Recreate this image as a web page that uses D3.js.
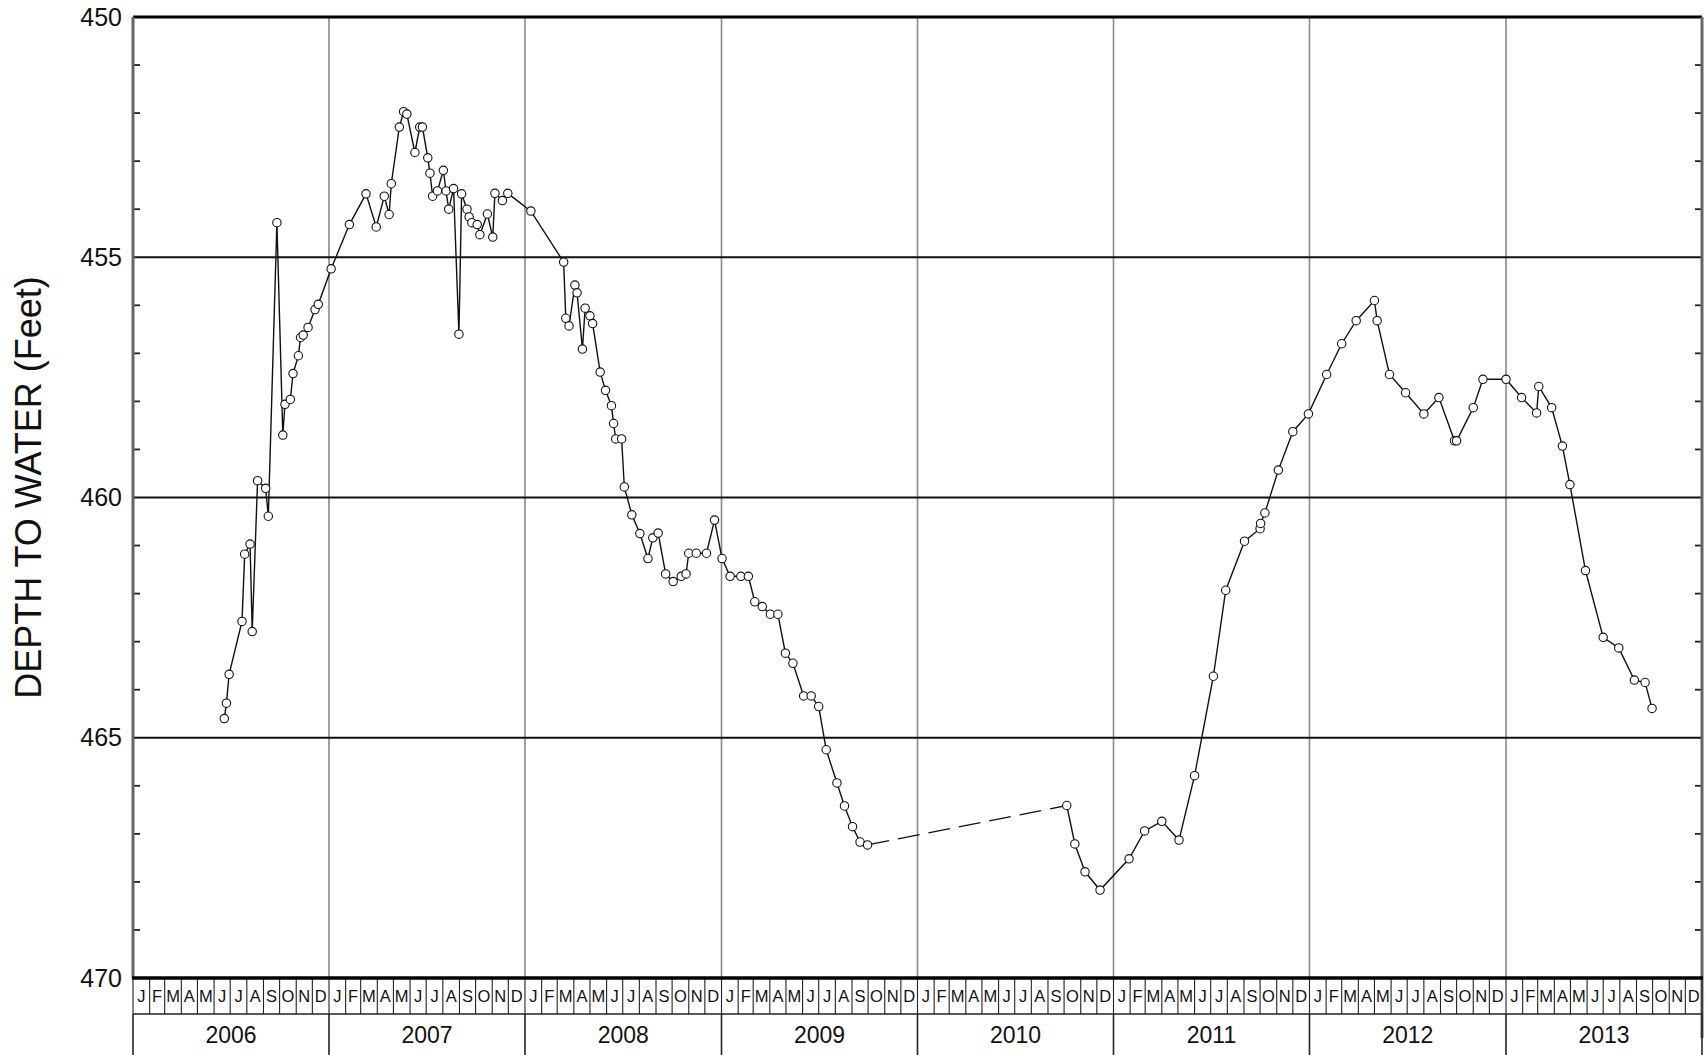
<!DOCTYPE html>
<html>
<head>
<meta charset="utf-8">
<script src="https://cdn.jsdelivr.net/npm/d3@7"></script>
<style>
  body { margin: 0; background: #fff; }
  svg { display: block; font-family: "Liberation Sans", Arial, sans-serif; }
</style>
</head>
<body>
<div id="chart-area"></div>
<script>
// Fechas de medición y profundidad al agua (pies)
const dates = [
  "2006-06-20","2006-06-24","2006-06-29","2006-07-23","2006-07-28","2006-08-07","2006-08-11","2006-08-21",
  "2006-09-05","2006-09-10","2006-09-26","2006-10-07","2006-10-11","2006-10-21","2006-10-26","2006-11-05",
  "2006-11-09","2006-11-14","2006-11-23","2006-12-06","2006-12-12",
  "2007-01-05","2007-02-08","2007-03-11","2007-03-30","2007-04-14","2007-04-23","2007-04-27","2007-05-12",
  "2007-05-20","2007-05-26","2007-06-10","2007-06-19","2007-06-24","2007-07-04","2007-07-08","2007-07-13",
  "2007-07-22","2007-08-02","2007-08-07","2007-08-12","2007-08-21","2007-08-31","2007-09-05","2007-09-15",
  "2007-09-19","2007-09-24","2007-10-04","2007-10-09","2007-10-23","2007-11-02","2007-11-06","2007-11-20",
  "2007-11-30",
  "2008-01-12","2008-03-13","2008-03-17","2008-03-23","2008-04-03","2008-04-07","2008-04-17","2008-04-22",
  "2008-05-01","2008-05-06","2008-05-20","2008-05-30","2008-06-10","2008-06-14","2008-06-18","2008-06-29",
  "2008-07-04","2008-07-18","2008-08-02","2008-08-17","2008-08-26","2008-09-05","2008-09-19","2008-10-03",
  "2008-10-18","2008-10-27","2008-11-01","2008-11-15","2008-12-04","2008-12-19",
  "2009-01-02","2009-01-17","2009-02-06","2009-02-20","2009-03-04","2009-03-18","2009-04-02","2009-04-16",
  "2009-04-30","2009-05-14","2009-06-03","2009-06-17","2009-07-01","2009-07-15","2009-08-04","2009-08-18",
  "2009-09-02","2009-09-16","2009-09-30",
  "2010-10-06","2010-10-21","2010-11-09","2010-12-07",
  "2011-01-30","2011-02-28","2011-04-01","2011-05-03","2011-06-01","2011-07-06","2011-07-29","2011-09-02",
  "2011-10-01","2011-10-02","2011-10-10","2011-11-04","2011-12-01","2011-12-30",
  "2012-02-02","2012-03-01","2012-03-28","2012-05-01","2012-05-06","2012-05-29","2012-06-28","2012-08-01",
  "2012-08-29","2012-09-27","2012-10-01","2012-11-01","2012-11-19",
  "2013-01-01","2013-01-30","2013-02-27","2013-03-03","2013-03-27","2013-04-16","2013-04-30","2013-05-29",
  "2013-07-01","2013-07-30","2013-08-28","2013-09-17","2013-09-30"
];

const depths = [
  464.60,464.28,463.68,462.58,461.18,460.97,462.79,459.65,
  459.81,460.39,454.28,458.70,458.06,457.96,457.42,457.05,
  456.67,456.62,456.46,456.09,455.98,
  455.24,454.32,453.68,454.37,453.73,454.11,453.47,452.29,
  451.97,452.02,452.82,452.29,452.29,452.93,453.25,453.73,
  453.62,453.19,453.62,454.00,453.57,456.60,453.68,454.00,
  454.16,454.28,454.32,454.53,454.10,454.58,453.67,453.82,
  453.67,
  454.04,455.10,456.27,456.43,455.58,455.74,456.91,456.06,
  456.22,456.38,457.39,457.77,458.09,458.46,458.78,458.78,
  459.78,460.36,460.75,461.27,460.84,460.74,461.59,461.75,
  461.64,461.59,461.16,461.16,461.16,460.47,
  461.27,461.64,461.64,461.64,462.17,462.27,462.43,462.43,
  463.24,463.45,464.13,464.13,464.35,465.25,465.94,466.42,
  466.85,467.17,467.23,
  466.41,467.21,467.79,468.17,
  467.52,466.94,466.74,467.13,465.79,463.72,461.93,460.91,
  460.65,460.54,460.32,459.43,458.63,458.26,
  457.44,456.80,456.32,455.90,456.32,457.44,457.82,458.26,
  457.92,458.82,458.82,458.13,457.54,
  457.54,457.92,458.24,457.69,458.13,458.93,459.73,461.52,
  462.91,463.13,463.80,463.85,464.39
];

// Sin mediciones entre estas dos fechas (tramo punteado)
const gapStart = "2009-09-30";
const gapEnd = "2010-10-06";

const years = [2006, 2007, 2008, 2009, 2010, 2011, 2012, 2013];
const monthLetters = ["J","F","M","A","M","J","J","A","S","O","N","D"];
const yTicks = [450, 455, 460, 465, 470];
const gridLines = [455, 460, 465];

const parseDate = d3.timeParse("%Y-%m-%d");
const formatDate = d3.timeFormat("%Y-%m-%d");

const data = dates.map((d, i) => ({ date: parseDate(d), depth: depths[i] }));

const margin = { top: 17, right: 4, bottom: 77, left: 133 };
const width = 1706 - margin.left - margin.right;
const height = 1055 - margin.top - margin.bottom;

// Crear SVG
const svg = d3.select("#chart-area")
  .append("svg")
  .attr("width", 1706)
  .attr("height", 1055);

const g = svg.append("g")
  .attr("transform", `translate(${margin.left},${margin.top})`);

// Escalas
const x = d3.scaleTime()
  .domain([new Date(years[0], 0, 1), new Date(years[years.length - 1] + 1, 0, 1)])
  .range([0, width]);

const y = d3.scaleLinear()
  .domain([450, 470])
  .range([0, height]);

// Líneas verticales de año
g.selectAll(".year-line")
  .data(years.slice(1))
  .enter()
  .append("line")
  .attr("class", "year-line")
  .attr("x1", d => x(new Date(d, 0, 1)))
  .attr("x2", d => x(new Date(d, 0, 1)))
  .attr("y1", 0)
  .attr("y2", height)
  .attr("stroke", "#8a8a8a")
  .attr("stroke-width", 1.6);

// Líneas horizontales
g.selectAll(".grid-line")
  .data(gridLines)
  .enter()
  .append("line")
  .attr("class", "grid-line")
  .attr("x1", 0)
  .attr("x2", width)
  .attr("y1", d => y(d))
  .attr("y2", d => y(d))
  .attr("stroke", "#111")
  .attr("stroke-width", 1.8);

// Marcas menores de cada pie, a ambos lados
const minorTicks = d3.range(451, 470).filter(d => d % 5 !== 0);
g.selectAll(".minor-left")
  .data(minorTicks)
  .enter()
  .append("line")
  .attr("x1", 0)
  .attr("x2", 7)
  .attr("y1", d => y(d))
  .attr("y2", d => y(d))
  .attr("stroke", "#222")
  .attr("stroke-width", 1.8);

g.selectAll(".minor-right")
  .data(minorTicks)
  .enter()
  .append("line")
  .attr("x1", width - 7)
  .attr("x2", width)
  .attr("y1", d => y(d))
  .attr("y2", d => y(d))
  .attr("stroke", "#222")
  .attr("stroke-width", 1.8);

// Marco
g.append("line").attr("x1", 0).attr("x2", width).attr("y1", 0).attr("y2", 0)
  .attr("stroke", "#000").attr("stroke-width", 3);
g.append("line").attr("x1", 0).attr("x2", 0).attr("y1", 0).attr("y2", height)
  .attr("stroke", "#666").attr("stroke-width", 3);
g.append("line").attr("x1", width).attr("x2", width).attr("y1", 0).attr("y2", height + 60)
  .attr("stroke", "#666").attr("stroke-width", 3);

// Eje Y con etiquetas
const leftAxis = d3.axisLeft(y).tickValues(yTicks).tickSize(0).tickPadding(11);
const yAxisG = g.append("g")
  .attr("class", "left axis")
  .call(leftAxis);
yAxisG.select(".domain").remove();
yAxisG.selectAll("text")
  .attr("font-size", "25px")
  .attr("font-family", "'Liberation Sans', Arial, sans-serif")
  .attr("fill", "#111");

// Etiqueta del eje Y
g.append("text")
  .attr("transform", "rotate(-90)")
  .attr("x", -(height / 2) + 10)
  .attr("y", -133 + 41)
  .attr("text-anchor", "middle")
  .attr("font-size", "36px")
  .attr("fill", "#111")
  .text("DEPTH TO WATER (Feet)");

// Tramo sin datos: línea punteada
const gapData = data.filter(d => formatDate(d.date) === gapStart || formatDate(d.date) === gapEnd);
const gapIndex = data.findIndex(d => formatDate(d.date) === gapStart);

const line = d3.line()
  .x(d => x(d.date))
  .y(d => y(d.depth));

g.append("path")
  .datum(gapData)
  .attr("fill", "none")
  .attr("stroke", "#111")
  .attr("stroke-width", 1.3)
  .attr("stroke-dasharray", "22,9")
  .attr("d", line);

[data.slice(0, gapIndex + 1), data.slice(gapIndex + 1)].forEach(seg => {
  g.append("path")
    .datum(seg)
    .attr("fill", "none")
    .attr("stroke", "#111")
    .attr("stroke-width", 1.4)
    .attr("d", line);
});

g.selectAll("circle")
  .data(data)
  .enter()
  .append("circle")
  .attr("cx", d => x(d.date))
  .attr("cy", d => y(d.depth))
  .attr("r", 4.2)
  .attr("fill", "#fff")
  .attr("stroke", "#111")
  .attr("stroke-width", 1.1);

// Tira de meses y años
const months = d3.timeMonth.range(x.domain()[0], x.domain()[1]);
const stripH = 36;
const axisG = g.append("g").attr("transform", `translate(0,${height})`);

axisG.selectAll(".month-sep")
  .data(months.concat([x.domain()[1]]))
  .enter()
  .append("line")
  .attr("x1", d => x(d))
  .attr("x2", d => x(d))
  .attr("y1", 0)
  .attr("y2", stripH)
  .attr("stroke", "#222")
  .attr("stroke-width", 1.1);

axisG.selectAll(".month-label")
  .data(months)
  .enter()
  .append("text")
  .attr("x", d => (x(d) + x(d3.timeMonth.offset(d, 1))) / 2)
  .attr("y", stripH / 2 + 6)
  .attr("text-anchor", "middle")
  .attr("font-size", "16.5px")
  .attr("fill", "#111")
  .text(d => monthLetters[d.getMonth()]);

axisG.append("line").attr("x1", 0).attr("x2", width).attr("y1", stripH).attr("y2", stripH)
  .attr("stroke", "#222").attr("stroke-width", 1.6);

axisG.selectAll(".year-sep")
  .data(years.concat([years[years.length - 1] + 1]))
  .enter()
  .append("line")
  .attr("x1", d => x(new Date(d, 0, 1)))
  .attr("x2", d => x(new Date(d, 0, 1)))
  .attr("y1", stripH)
  .attr("y2", 80)
  .attr("stroke", "#222")
  .attr("stroke-width", 1.6);

axisG.selectAll(".year-label")
  .data(years)
  .enter()
  .append("text")
  .attr("x", d => (x(new Date(d, 0, 1)) + x(new Date(d + 1, 0, 1))) / 2)
  .attr("y", stripH + 29)
  .attr("text-anchor", "middle")
  .attr("font-size", "23px")
  .attr("fill", "#111")
  .text(d => d);

// Eje inferior grueso
g.append("line").attr("x1", -1).attr("x2", width + 1).attr("y1", height).attr("y2", height)
  .attr("stroke", "#000").attr("stroke-width", 3.5);
</script>
</body>
</html>
